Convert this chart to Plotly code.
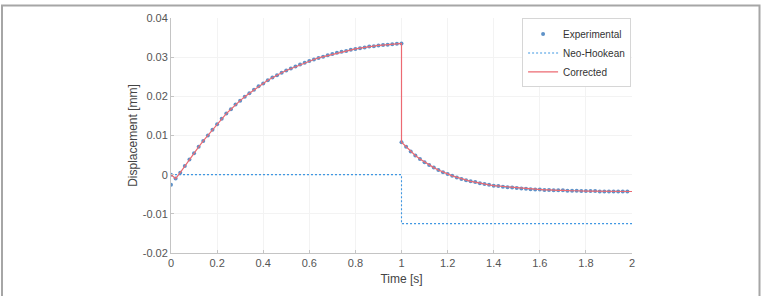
import plotly.graph_objects as go

# ---------------- data ----------------
t_load = [0.00, 0.02, 0.04, 0.06, 0.08, 0.10, 0.12, 0.14, 0.16, 0.18,
          0.20, 0.22, 0.24, 0.26, 0.28, 0.30, 0.32, 0.34, 0.36, 0.38,
          0.40, 0.42, 0.44, 0.46, 0.48, 0.50, 0.52, 0.54, 0.56, 0.58,
          0.60, 0.62, 0.64, 0.66, 0.68, 0.70, 0.72, 0.74, 0.76, 0.78,
          0.80, 0.82, 0.84, 0.86, 0.88, 0.90, 0.92, 0.94, 0.96, 0.98, 1.00]
u_load = [0.0000, -0.0010, 0.0005, 0.0022, 0.0039, 0.0055, 0.0071, 0.0086, 0.0100, 0.0115,
          0.0129, 0.0143, 0.0156, 0.0167, 0.0179, 0.0189, 0.0199, 0.0208, 0.0217, 0.0226,
          0.0233, 0.0241, 0.0248, 0.0254, 0.0260, 0.0266, 0.0271, 0.0276, 0.0281, 0.0286,
          0.0290, 0.0294, 0.0298, 0.0301, 0.0305, 0.0308, 0.0311, 0.0314, 0.0316, 0.0319,
          0.0321, 0.0323, 0.0325, 0.0327, 0.0328, 0.0330, 0.0331, 0.0332, 0.0333, 0.0334, 0.0335]

t_unload = [1.00, 1.02, 1.04, 1.06, 1.08, 1.10, 1.12, 1.14, 1.16, 1.18,
            1.20, 1.22, 1.24, 1.26, 1.28, 1.30, 1.32, 1.34, 1.36, 1.38,
            1.40, 1.42, 1.44, 1.46, 1.48, 1.50, 1.52, 1.54, 1.56, 1.58,
            1.60, 1.62, 1.64, 1.66, 1.68, 1.70, 1.72, 1.74, 1.76, 1.78,
            1.80, 1.82, 1.84, 1.86, 1.88, 1.90, 1.92, 1.94, 1.96, 1.98, 2.00]
u_unload = [0.0083, 0.0071, 0.0059, 0.0049, 0.0040, 0.0032, 0.0025, 0.0018, 0.0012, 0.0006,
            0.0002, -0.0003, -0.0007, -0.0011, -0.0014, -0.0017, -0.0019, -0.0022, -0.0024, -0.0026,
            -0.0028, -0.0029, -0.0031, -0.0032, -0.0033, -0.0034, -0.0035, -0.0036, -0.0037, -0.0038,
            -0.0038, -0.0039, -0.0039, -0.0040, -0.0040, -0.0040, -0.0041, -0.0041, -0.0041, -0.0042,
            -0.0042, -0.0042, -0.0042, -0.0043, -0.0043, -0.0043, -0.0043, -0.0043, -0.0043, -0.0043, -0.0043]

# experimental samples (two readings at t=0)
t_exp = [0.00] + t_load + t_unload[:-1]
u_exp = [-0.0026] + u_load + u_unload[:-1]

# Neo-Hookean step response
t_neo = [0.0, 1.0, 1.0, 2.0]
u_neo = [0.0, 0.0, -0.0125, -0.0125]

# corrected model
t_cor = t_load + t_unload
u_cor = u_load + u_unload

x_ticks = [0, 0.2, 0.4, 0.6, 0.8, 1, 1.2, 1.4, 1.6, 1.8, 2]
x_labels = ["0", "0.2", "0.4", "0.6", "0.8", "1", "1.2", "1.4", "1.6", "1.8", "2"]
y_ticks = [-0.02, -0.01, 0, 0.01, 0.02, 0.03, 0.04]
y_labels = ["-0.02", "-0.01", "0", "0.01", "0.02", "0.03", "0.04"]

# ---------------- figure ----------------
W, H = 769, 296
L, R, T, B = 171, 137, 14, 37
pw, ph = W - L - R, H - T - B
FONT = "Liberation Sans, Arial, Helvetica, sans-serif"

fig = go.Figure()
fig.add_trace(go.Scatter(x=t_exp, y=u_exp, mode="markers", name="Experimental",
                         marker=dict(size=4, color="#5f92c8", line=dict(width=0))))
fig.add_trace(go.Scatter(x=t_neo, y=u_neo, mode="lines", name="Neo-Hookean",
                         line=dict(color="#3f97e2", width=1.1, dash="2px,2px")))
fig.add_trace(go.Scatter(x=t_cor, y=u_cor, mode="lines", name="Corrected",
                         line=dict(color="#ec6a72", width=1.2)))

def px2paper_x(px):
    return (px - L) / pw

def px2paper_y(py):
    return (H - B - py) / ph

# outer figure frame
fig.add_shape(type="rect", xref="paper", yref="paper",
              x0=px2paper_x(2), x1=px2paper_x(759.5), y0=px2paper_y(1), y1=px2paper_y(310),
              line=dict(color="#a6a6a6", width=2), fillcolor="rgba(0,0,0,0)", layer="above")

axis_common = dict(showgrid=True, gridcolor="#f3f3f3", gridwidth=1, zeroline=False,
                   showline=True, linecolor="#c4c4c4", linewidth=1,
                   ticks="inside", ticklen=3, tickcolor="#c4c4c4",
                   tickfont=dict(family=FONT, size=11, color="#555555"))

fig.update_layout(
    width=W, height=H,
    margin=dict(l=L, r=R, t=T, b=B, pad=0),
    paper_bgcolor="white", plot_bgcolor="white",
    font=dict(family=FONT, size=11, color="#444444"),
    xaxis=dict(range=[0, 2], tickvals=x_ticks, ticktext=x_labels,
               title=dict(text="Time [s]", font=dict(size=12, color="#444444"), standoff=6),
               **axis_common),
    yaxis=dict(range=[-0.02, 0.04], tickvals=y_ticks, ticktext=y_labels,
               title=dict(text="Displacement [mm]", font=dict(size=12, color="#444444"), standoff=2),
               **axis_common),
    legend=dict(x=0.998, y=0.998, xanchor="right", yanchor="top",
                bgcolor="white", bordercolor="#d6d6d6", borderwidth=1,
                font=dict(family=FONT, size=10, color="#333333"),
                itemwidth=30, tracegroupgap=0),
    showlegend=True,
)

fig.write_html("out.html")
